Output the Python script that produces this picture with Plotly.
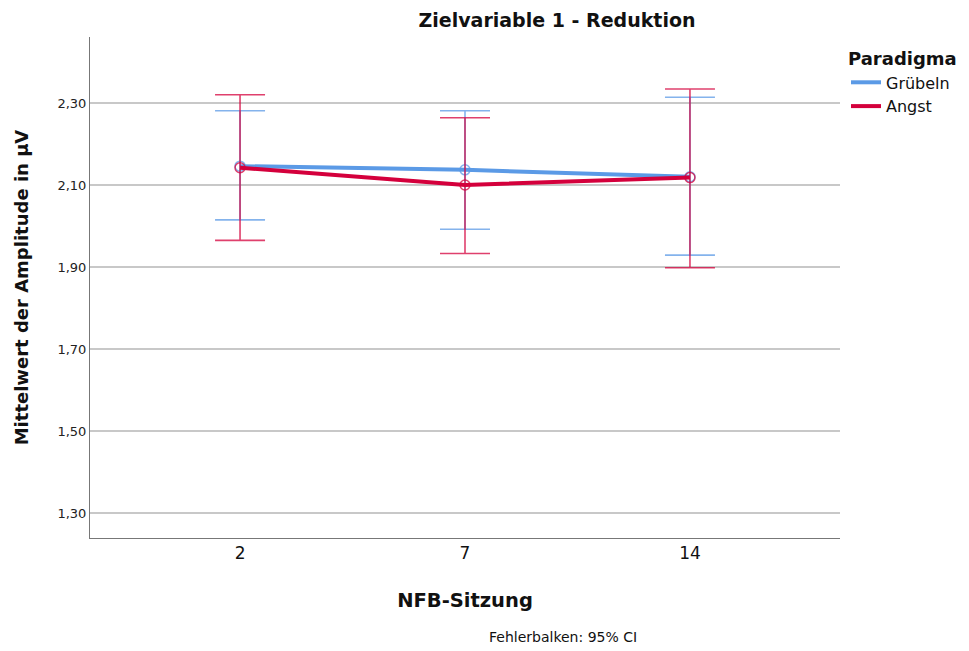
import plotly.graph_objects as go

categories = ["2", "7", "14"]
series_names = ["Grübeln", "Angst"]
gruebeln_mean = [2.146, 2.137, 2.120]
gruebeln_upper = [2.281, 2.281, 2.314]
gruebeln_lower = [2.015, 1.992, 1.929]
angst_mean = [2.142, 2.100, 2.118]
angst_upper = [2.320, 2.264, 2.334]
angst_lower = [1.965, 1.933, 1.898]
y_ticks = [1.30, 1.50, 1.70, 1.90, 2.10, 2.30]
y_ticklabels = ["1,30", "1,50", "1,70", "1,90", "2,10", "2,30"]

colors = ["#5B9AE6", "#D4003C"]
err_colors = ["rgba(91,154,230,0.75)", "rgba(212,0,60,0.75)"]

FONT = "DejaVu Sans"
fig = go.Figure()
for name, mean, up, lo, c, ec in [
    (series_names[0], gruebeln_mean, gruebeln_upper, gruebeln_lower, colors[0], err_colors[0]),
    (series_names[1], angst_mean, angst_upper, angst_lower, colors[1], err_colors[1]),
]:
    fig.add_trace(go.Scatter(
        x=categories, y=mean, name=name, mode="lines",
        line=dict(color=c, width=4), legendgroup=name,
    ))
    fig.add_trace(go.Scatter(
        x=categories, y=mean, name=name, mode="markers", showlegend=False,
        legendgroup=name,
        marker=dict(symbol="circle-open", size=10, color=ec, line=dict(width=1.5, color=ec)),
        error_y=dict(type="data", symmetric=False,
                     array=[u - m for u, m in zip(up, mean)],
                     arrayminus=[m - l for m, l in zip(mean, lo)],
                     color=ec, thickness=1.6, width=25),
    ))

fig.update_layout(
    width=969, height=651,
    margin=dict(l=90, r=129, t=37, b=113, autoexpand=False),
    plot_bgcolor="white", paper_bgcolor="white",
    font=dict(family=FONT, color="#111111"),
    title=dict(text="<b>Zielvariable 1 - Reduktion</b>", x=557/969, xanchor="center",
               y=1 - 20/651, yanchor="middle", font=dict(size=19, family=FONT, color="#111111")),
    legend=dict(title=dict(text="<b>Paradigma</b>", font=dict(size=18)),
                xref="container", yref="container",
                x=846/969, xanchor="left", y=1 - 42/651, yanchor="top",
                font=dict(size=16, family=FONT), bgcolor="rgba(0,0,0,0)",
                tracegroupgap=0, itemwidth=30),
    xaxis=dict(type="category", range=[-0.667, 2.667], showgrid=False,
               showline=True, linecolor="#777777", linewidth=1, ticks="",
               tickfont=dict(size=17, family=FONT, color="#111111"),
               title=dict(text="<b>NFB-Sitzung</b>", font=dict(size=19.5, family=FONT), standoff=30)),
    yaxis=dict(range=[1.239, 2.461], tickvals=y_ticks, ticktext=y_ticklabels,
               showgrid=True, gridcolor="#C8C8C8", gridwidth=1.5,
               showline=True, linecolor="#777777", linewidth=1, zeroline=False,
               ticks="", tickfont=dict(size=13, family=FONT, color="#222222"),
               title=dict(text="<b>Mittelwert der Amplitude in µV</b>", font=dict(size=18, family=FONT), standoff=24)),
    annotations=[dict(text="Fehlerbalken: 95% CI", x=(563 - 90) / 750, y=(538 - 637) / 501,
                      xref="paper", yref="paper", xanchor="center", yanchor="middle",
                      showarrow=False, font=dict(size=14, family=FONT, color="#111111"))],
)
fig.write_html("out.html")
